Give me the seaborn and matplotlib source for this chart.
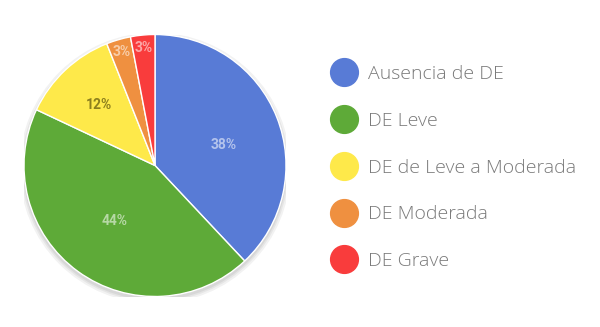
import matplotlib
matplotlib.use("Agg")
import matplotlib.pyplot as plt
from matplotlib.lines import Line2D
from matplotlib.patches import Circle
import numpy as np
import seaborn as sns

categories = ["Ausencia de DE", "DE Leve", "DE de Leve a Moderada", "DE Moderada", "DE Grave"]
values = [38, 44, 12, 3, 3]
colors = ["#587bd6", "#5eaa38", "#fee94a", "#ef9040", "#f93c3c"]

sns.set_theme(style="white")
plt.rcParams["font.family"] = ["Open Sans", "DejaVu Sans"]

W, H = 600, 327
fig = plt.figure(figsize=(W / 100, H / 100), dpi=100)
cx, cy, r = 155, 327 - 165.5, 131
ax = fig.add_axes([(cx - r) / W, (cy - r) / H, 2 * r / W, 2 * r / H])

# soft shadow
for a, s in [(0.05, 1.035), (0.05, 1.02), (0.06, 1.008)]:
    ax.add_patch(Circle((0, -0.02), s, color="#000000", alpha=a, lw=0, zorder=0))

pal = sns.color_palette(colors)
wedges, texts, autotexts = ax.pie(
    values, colors=pal, startangle=90, counterclock=False,
    autopct="%1.0f%%", pctdistance=0.55,
    wedgeprops=dict(edgecolor="white", linewidth=1.0),
    textprops=dict(fontsize=10, fontweight="bold", family=["Roboto", "DejaVu Sans"]),
)
label_dist = [0.55, 0.52, 0.63, 0.9, 0.9]
label_turn = [-5, 0, 0, 0, 0]
for w, t, d, o, c in zip(wedges, autotexts, label_dist, label_turn, colors):
    ang = np.deg2rad((w.theta1 + w.theta2) / 2 + o)
    t.set_position((d * np.cos(ang), d * np.sin(ang)))
    if c == "#fee94a":
        t.set_color((0.25, 0.22, 0.0, 0.6))
    else:
        t.set_color((1, 1, 1, 0.55))
ax.set_xlim(-1, 1)
ax.set_ylim(-1, 1)
ax.set_aspect("equal")
ax.axis("off")

handles = [Line2D([], [], marker="o", linestyle="", markersize=20,
                  markerfacecolor=c, markeredgecolor=c) for c in colors]
leg = fig.legend(handles, categories, loc="upper left",
                 bbox_to_anchor=(330 / W, 1 - 65 / H), frameon=False,
                 prop=dict(family=["Open Sans", "DejaVu Sans"], size=14, weight="light"),
                 labelcolor="#7a7a7a", handlelength=1.44,
                 handletextpad=0.5, labelspacing=1.48, borderpad=0,
                 borderaxespad=0)

fig.savefig("out.png", dpi=100)
